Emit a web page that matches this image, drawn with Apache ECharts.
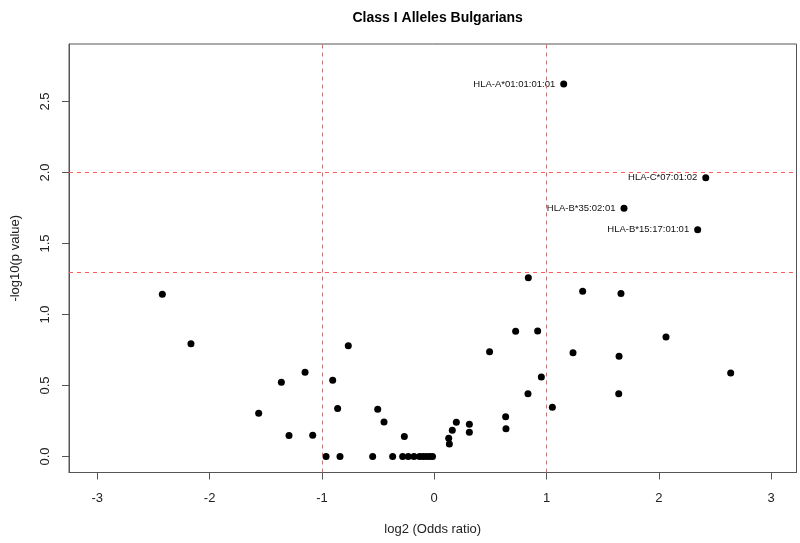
<!DOCTYPE html>
<html>
<head>
<meta charset="utf-8">
<script src="https://cdn.jsdelivr.net/npm/echarts@6/dist/echarts.min.js"></script>
<style>html,body{margin:0;padding:0;background:#fff;}#c{width:800px;height:543px;}</style>
</head>
<body>
<div id="c"></div>
<script>
// Unlabeled alleles: log2(odds ratio) and -log10(p value)
var log2OR = [-2.421, -2.166, -1.563, -1.361, -1.293, -1.150, -1.082, -0.963, -0.904, -0.860,
  -0.839, -0.765, -0.548, -0.503, -0.447, -0.370, -0.281, -0.266, -0.231, -0.180,
  -0.130, -0.100, -0.070, -0.040, -0.015, 0.129, 0.135, 0.161, 0.197, 0.313,
  0.313, 0.493, 0.636, 0.639, 0.725, 0.835, 0.838, 0.921, 0.954, 1.052,
  1.236, 1.322, 1.643, 1.646, 1.663, 2.064, 2.640];
var negLog10P = [1.142, 0.794, 0.304, 0.522, 0.147, 0.593, 0.149, 0.000, 0.537, 0.337,
  0.000, 0.780, 0.000, 0.332, 0.243, 0.000, 0.000, 0.140, 0.000, 0.000,
  0.000, 0.000, 0.000, 0.000, 0.000, 0.128, 0.088, 0.184, 0.241, 0.227,
  0.170, 0.738, 0.280, 0.196, 0.882, 0.442, 1.259, 0.884, 0.560, 0.346,
  0.731, 1.163, 0.442, 0.706, 1.147, 0.842, 0.588];

// Labeled alleles
var labeledNames = ["HLA-A*01:01:01:01", "HLA-C*07:01:02", "HLA-B*35:02:01", "HLA-B*15:17:01:01"];
var labeledX = [1.153, 2.418, 1.690, 2.346];
var labeledY = [2.623, 1.963, 1.748, 1.597];

// Threshold lines
var xThresholds = [-1, 1];
var yThresholds = [1.3, 2];

// Tick labels
var xTicks = [-3, -2, -1, 0, 1, 2, 3];
var yTicks = [0, 0.5, 1, 1.5, 2, 2.5];

var chartTitle = "Class I Alleles Bulgarians";
var xTitle = "log2 (Odds ratio)";
var yTitle = "-log10(p value)";

var FONT = "'Liberation Sans', Arial, sans-serif";
var X_MIN = -3.252, X_MAX = 3.226, Y_MIN = -0.113, Y_MAX = 2.905;

var pts = log2OR.map(function (x, i) { return [x, negLog10P[i]]; });
var lab = labeledX.map(function (x, i) { return { value: [x, labeledY[i]], name: labeledNames[i] }; });

var markData = [];
xThresholds.forEach(function (v) { markData.push({ xAxis: v }); });
yThresholds.forEach(function (v) { markData.push({ yAxis: v }); });

function tickAxis(min, max, ticks, pos) {
  return {
    type: 'value', gridIndex: 1, min: min, max: max, position: pos,
    axisLine: { show: true, onZero: false, lineStyle: { color: '#555', width: 1 } },
    splitLine: { show: false },
    axisTick: { show: true, length: 7, lineStyle: { color: '#555', width: 1 }, customValues: ticks },
    axisLabel: { show: false, customValues: ticks }
  };
}

var GRID = { left: 69, right: 3.5, top: 44, bottom: 70.5 };

var chart = echarts.init(document.getElementById('c'));
chart.setOption({
  animation: false,
  backgroundColor: '#fff',
  title: {
    text: chartTitle, left: 432.7, textAlign: 'center', top: 6,
    textStyle: { fontFamily: FONT, fontSize: 14, fontWeight: 'bold', color: '#000' }
  },
  grid: [
    { left: GRID.left, right: GRID.right, top: GRID.top, bottom: GRID.bottom,
      show: true, borderColor: '#555', borderWidth: 1 },
    { left: GRID.left, right: GRID.right, top: GRID.top, bottom: GRID.bottom, show: false }
  ],
  xAxis: [
    {
      type: 'value', gridIndex: 0, min: X_MIN, max: X_MAX, position: 'bottom',
      name: xTitle, nameLocation: 'middle', nameGap: 50,
      nameTextStyle: { fontFamily: FONT, fontSize: 13, color: '#222' },
      axisLine: { show: false, onZero: false },
      splitLine: { show: false },
      axisTick: { show: false },
      axisLabel: { margin: 19, fontFamily: FONT, fontSize: 13, color: '#222', customValues: xTicks }
    },
    tickAxis(X_MIN, X_MAX, xTicks, 'bottom')
  ],
  yAxis: [
    {
      type: 'value', gridIndex: 0, min: Y_MIN, max: Y_MAX, position: 'left',
      name: yTitle, nameLocation: 'middle', nameGap: 47,
      nameTextStyle: { fontFamily: FONT, fontSize: 13, color: '#222' },
      axisLine: { show: false, onZero: false },
      splitLine: { show: false },
      axisTick: { show: false },
      axisLabel: { margin: 17, rotate: 90, fontFamily: FONT, fontSize: 13, color: '#222', customValues: yTicks,
        formatter: function (v) { return Number(v).toFixed(1); } }
    },
    tickAxis(Y_MIN, Y_MAX, yTicks, 'left')
  ],
  series: [
    {
      type: 'scatter', xAxisIndex: 0, yAxisIndex: 0, data: pts, symbol: 'circle', symbolSize: 7,
      itemStyle: { color: '#000', opacity: 1 },
      markLine: {
        silent: true, symbol: ['none', 'none'], label: { show: false },
        lineStyle: { color: '#ff5a5a', type: [4, 4], width: 1, opacity: 1 },
        data: markData
      }
    },
    {
      type: 'scatter', xAxisIndex: 0, yAxisIndex: 0, data: lab, symbol: 'circle', symbolSize: 7,
      itemStyle: { color: '#000', opacity: 1 },
      label: { show: true, position: 'left', distance: 5, formatter: '{b}',
        fontFamily: FONT, fontSize: 9.5, color: '#111', textBorderWidth: 0 }
    }
  ]
});
</script>
</body>
</html>
